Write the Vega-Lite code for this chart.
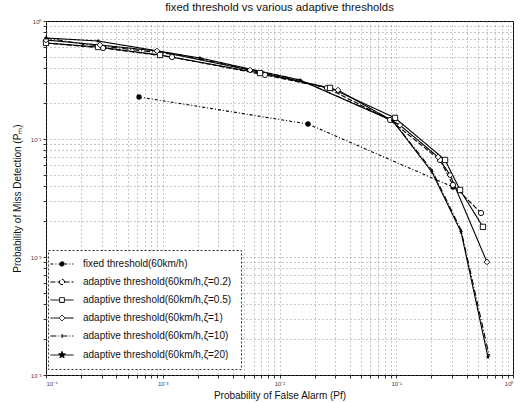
{
  "$schema": "https://vega.github.io/schema/vega-lite/v6.json",
  "width": 467,
  "height": 354,
  "autosize": "none",
  "padding": {"left": 46, "top": 21, "right": 10, "bottom": 28},
  "background": "white",
  "title": {"text": "fixed threshold vs various adaptive thresholds", "font": "Liberation Sans", "fontSize": 11.3, "fontWeight": "normal", "color": "#111", "offset": 5, "anchor": "middle"},
  "config": {
    "view": {"stroke": "black", "strokeWidth": 1},
    "axis": {"labelFont": "Liberation Sans", "labelFontSize": 6, "labelColor": "#444", "titleFont": "Liberation Sans", "titleFontSize": 10, "titleFontWeight": "normal", "titleColor": "#111", "domain": false, "tickColor": "#333", "tickSize": 3, "grid": true, "gridDash": [1, 3], "gridColor": "#777", "gridOpacity": 0.8}
  },
  "data": {"values": [
    {"series": "fixed threshold(60km/h)", "ord": 1, "pf": 0.000626, "pm": 0.227},
    {"series": "fixed threshold(60km/h)", "ord": 2, "pf": 0.01754, "pm": 0.134},
    {"series": "fixed threshold(60km/h)", "ord": 3, "pf": 0.306, "pm": 0.0392},
    {"series": "adaptive threshold(60km/h,ζ=0.2)", "ord": 1, "pf": 0.0001, "pm": 0.651},
    {"series": "adaptive threshold(60km/h,ζ=0.2)", "ord": 2, "pf": 0.000308, "pm": 0.590},
    {"series": "adaptive threshold(60km/h,ζ=0.2)", "ord": 3, "pf": 0.0012, "pm": 0.495},
    {"series": "adaptive threshold(60km/h,ζ=0.2)", "ord": 4, "pf": 0.00751, "pm": 0.349},
    {"series": "adaptive threshold(60km/h,ζ=0.2)", "ord": 5, "pf": 0.0255, "pm": 0.271},
    {"series": "adaptive threshold(60km/h,ζ=0.2)", "ord": 6, "pf": 0.0884, "pm": 0.145},
    {"series": "adaptive threshold(60km/h,ζ=0.2)", "ord": 7, "pf": 0.237, "pm": 0.0664},
    {"series": "adaptive threshold(60km/h,ζ=0.2)", "ord": 8, "pf": 0.306, "pm": 0.0408},
    {"series": "adaptive threshold(60km/h,ζ=0.2)", "ord": 9, "pf": 0.532, "pm": 0.0236},
    {"series": "adaptive threshold(60km/h,ζ=0.5)", "ord": 1, "pf": 0.0001, "pm": 0.651},
    {"series": "adaptive threshold(60km/h,ζ=0.5)", "ord": 2, "pf": 0.000279, "pm": 0.602},
    {"series": "adaptive threshold(60km/h,ζ=0.5)", "ord": 3, "pf": 0.000947, "pm": 0.515},
    {"series": "adaptive threshold(60km/h,ζ=0.5)", "ord": 4, "pf": 0.00681, "pm": 0.362},
    {"series": "adaptive threshold(60km/h,ζ=0.5)", "ord": 5, "pf": 0.0271, "pm": 0.271},
    {"series": "adaptive threshold(60km/h,ζ=0.5)", "ord": 6, "pf": 0.0976, "pm": 0.151},
    {"series": "adaptive threshold(60km/h,ζ=0.5)", "ord": 7, "pf": 0.262, "pm": 0.0664},
    {"series": "adaptive threshold(60km/h,ζ=0.5)", "ord": 8, "pf": 0.352, "pm": 0.037},
    {"series": "adaptive threshold(60km/h,ζ=0.5)", "ord": 9, "pf": 0.553, "pm": 0.018},
    {"series": "adaptive threshold(60km/h,ζ=1)", "ord": 1, "pf": 0.0001, "pm": 0.690},
    {"series": "adaptive threshold(60km/h,ζ=1)", "ord": 2, "pf": 0.00029, "pm": 0.626},
    {"series": "adaptive threshold(60km/h,ζ=1)", "ord": 3, "pf": 0.000893, "pm": 0.557},
    {"series": "adaptive threshold(60km/h,ζ=1)", "ord": 4, "pf": 0.00559, "pm": 0.384},
    {"series": "adaptive threshold(60km/h,ζ=1)", "ord": 5, "pf": 0.0317, "pm": 0.260},
    {"series": "adaptive threshold(60km/h,ζ=1)", "ord": 6, "pf": 0.1076, "pm": 0.131},
    {"series": "adaptive threshold(60km/h,ζ=1)", "ord": 7, "pf": 0.228, "pm": 0.0704},
    {"series": "adaptive threshold(60km/h,ζ=1)", "ord": 8, "pf": 0.289, "pm": 0.0495},
    {"series": "adaptive threshold(60km/h,ζ=1)", "ord": 9, "pf": 0.598, "pm": 0.00908},
    {"series": "adaptive threshold(60km/h,ζ=10)", "ord": 1, "pf": 0.0001, "pm": 0.718},
    {"series": "adaptive threshold(60km/h,ζ=10)", "ord": 2, "pf": 0.000207, "pm": 0.638},
    {"series": "adaptive threshold(60km/h,ζ=10)", "ord": 3, "pf": 0.00141, "pm": 0.515},
    {"series": "adaptive threshold(60km/h,ζ=10)", "ord": 4, "pf": 0.015, "pm": 0.316},
    {"series": "adaptive threshold(60km/h,ζ=10)", "ord": 5, "pf": 0.092, "pm": 0.145},
    {"series": "adaptive threshold(60km/h,ζ=10)", "ord": 6, "pf": 0.202, "pm": 0.0546},
    {"series": "adaptive threshold(60km/h,ζ=10)", "ord": 7, "pf": 0.359, "pm": 0.0169},
    {"series": "adaptive threshold(60km/h,ζ=10)", "ord": 8, "pf": 0.623, "pm": 0.00148},
    {"series": "adaptive threshold(60km/h,ζ=20)", "ord": 1, "pf": 0.0001, "pm": 0.718},
    {"series": "adaptive threshold(60km/h,ζ=20)", "ord": 2, "pf": 0.000279, "pm": 0.677},
    {"series": "adaptive threshold(60km/h,ζ=20)", "ord": 3, "pf": 0.00208, "pm": 0.486},
    {"series": "adaptive threshold(60km/h,ζ=20)", "ord": 4, "pf": 0.015, "pm": 0.316},
    {"series": "adaptive threshold(60km/h,ζ=20)", "ord": 5, "pf": 0.0938, "pm": 0.142},
    {"series": "adaptive threshold(60km/h,ζ=20)", "ord": 6, "pf": 0.202, "pm": 0.0525},
    {"series": "adaptive threshold(60km/h,ζ=20)", "ord": 7, "pf": 0.359, "pm": 0.0163},
    {"series": "adaptive threshold(60km/h,ζ=20)", "ord": 8, "pf": 0.61, "pm": 0.00142}
  ]},
  "encoding": {
    "x": {"field": "pf", "type": "quantitative", "scale": {"type": "log", "domain": [0.0001, 1]},
      "axis": {"title": "Probability of False Alarm (Pf)", "titlePadding": 4,
        "values": [0.0001,0.0002,0.0003,0.0004,0.0005,0.0006,0.0007,0.0008,0.0009,0.001,0.002,0.003,0.004,0.005,0.006,0.007,0.008,0.009,0.01,0.02,0.03,0.04,0.05,0.06,0.07,0.08,0.09,0.1,0.2,0.3,0.4,0.5,0.6,0.7,0.8,0.9,1],
        "labelExpr": "abs(log(datum.value)/LN10 - round(log(datum.value)/LN10)) > 0.001 ? '' : (round(log(datum.value)/LN10) == 0 ? '10⁰' : round(log(datum.value)/LN10) == -1 ? '10⁻¹' : round(log(datum.value)/LN10) == -2 ? '10⁻²' : round(log(datum.value)/LN10) == -3 ? '10⁻³' : '10⁻⁴')"}},
    "y": {"field": "pm", "type": "quantitative", "scale": {"type": "log", "domain": [0.001, 1]},
      "axis": {"title": "Probability of Miss Detection (Pₘ)", "titlePadding": 8,
        "values": [0.001,0.002,0.003,0.004,0.005,0.006,0.007,0.008,0.009,0.01,0.02,0.03,0.04,0.05,0.06,0.07,0.08,0.09,0.1,0.2,0.3,0.4,0.5,0.6,0.7,0.8,0.9,1],
        "labelExpr": "abs(log(datum.value)/LN10 - round(log(datum.value)/LN10)) > 0.001 ? '' : (round(log(datum.value)/LN10) == 0 ? '10⁰' : round(log(datum.value)/LN10) == -1 ? '10⁻¹' : round(log(datum.value)/LN10) == -2 ? '10⁻²' : '10⁻³')"}}
  },
  "layer": [
    {
      "mark": {"type": "line", "color": "black", "strokeWidth": 1.1},
      "encoding": {
        "order": {"field": "ord", "type": "quantitative"},
        "strokeDash": {"field": "series", "type": "nominal",
          "scale": {"domain": ["fixed threshold(60km/h)", "adaptive threshold(60km/h,ζ=0.2)", "adaptive threshold(60km/h,ζ=0.5)", "adaptive threshold(60km/h,ζ=1)", "adaptive threshold(60km/h,ζ=10)", "adaptive threshold(60km/h,ζ=20)"],
            "range": [[3, 2, 1, 2], [5, 2], [1, 0], [1, 0], [6, 2, 1, 2], [1, 0]]},
          "legend": {"title": null, "orient": "none", "legendX": 2, "legendY": 229,
            "strokeColor": "#333", "fillColor": "white", "padding": 9,
            "labelFont": "Liberation Sans", "labelFontSize": 10, "labelColor": "#111", "labelOffset": 16,
            "symbolSize": 64, "rowPadding": 8, "symbolStrokeColor": "black", "symbolStrokeWidth": 1,
            "encode": {
              "legend": {"update": {"strokeDash": {"value": [2, 2]}}},
              "symbols": {"update": {
              "shape": {"signal": "['M-2.9,0H-0.6M0.6,0H2.9M-0.6,0a0.6,0.6 0 1,0 1.2,0a0.6,0.6 0 1,0 -1.2,0', 'M-2.9,0H-0.65M0.65,0H2.9M-0.65,0a0.65,0.65 0 1,0 1.3,0a0.65,0.65 0 1,0 -1.3,0', 'M-2.9,0H-0.6M0.6,0H2.9M-0.6,-0.6h1.2v1.2h-1.2z', 'M-2.9,0H-0.75M0.75,0H2.9M0,-0.75L0.75,0L0,0.75L-0.75,0z', 'M-2.9,0H2.9M0,-0.5V0.5', 'M-2.9,0H2.9M0,-0.9L0.212,-0.292L0.856,-0.278L0.342,0.112L0.53,0.728L0,0.36L-0.53,0.728L-0.342,0.112L-0.856,-0.278L-0.212,-0.292Z'][indexof(['fixed threshold(60km/h)', 'adaptive threshold(60km/h,ζ=0.2)', 'adaptive threshold(60km/h,ζ=0.5)', 'adaptive threshold(60km/h,ζ=1)', 'adaptive threshold(60km/h,ζ=10)', 'adaptive threshold(60km/h,ζ=20)'], datum.value)]"},
              "fill": {"signal": "indexof(['fixed threshold(60km/h)', 'adaptive threshold(60km/h,ζ=20)'], datum.value) >= 0 ? 'black' : 'white'"},
              "stroke": {"value": "black"},
              "strokeWidth": {"value": 1}
            }}}}
        }
      }
    },
    {
      "transform": [{"filter": "datum.series == 'fixed threshold(60km/h)'"}],
      "mark": {"type": "point", "shape": "circle", "filled": true, "color": "black", "opacity": 1, "size": 28}
    },
    {
      "transform": [{"filter": "datum.series == 'adaptive threshold(60km/h,ζ=0.2)'"}],
      "mark": {"type": "point", "shape": "circle", "stroke": "black", "fill": "white", "strokeWidth": 0.9, "opacity": 1, "size": 28}
    },
    {
      "transform": [{"filter": "datum.series == 'adaptive threshold(60km/h,ζ=0.5)'"}],
      "mark": {"type": "point", "shape": "square", "stroke": "black", "fill": "white", "strokeWidth": 0.9, "opacity": 1, "size": 28}
    },
    {
      "transform": [{"filter": "datum.series == 'adaptive threshold(60km/h,ζ=1)'"}],
      "mark": {"type": "point", "shape": "diamond", "stroke": "black", "fill": "white", "strokeWidth": 0.9, "opacity": 1, "size": 32}
    },
    {
      "transform": [{"filter": "datum.series == 'adaptive threshold(60km/h,ζ=10)'"}],
      "mark": {"type": "point", "shape": "M-0.5,0H0.5M0,-0.5V0.5", "stroke": "black", "strokeWidth": 0.9, "opacity": 1, "size": 20}
    },
    {
      "transform": [{"filter": "datum.series == 'adaptive threshold(60km/h,ζ=20)'"}],
      "mark": {"type": "point", "shape": "M0,-0.9L0.212,-0.292L0.856,-0.278L0.342,0.112L0.53,0.728L0,0.36L-0.53,0.728L-0.342,0.112L-0.856,-0.278L-0.212,-0.292Z", "filled": true, "color": "black", "opacity": 1, "size": 30}
    }
  ]
}
